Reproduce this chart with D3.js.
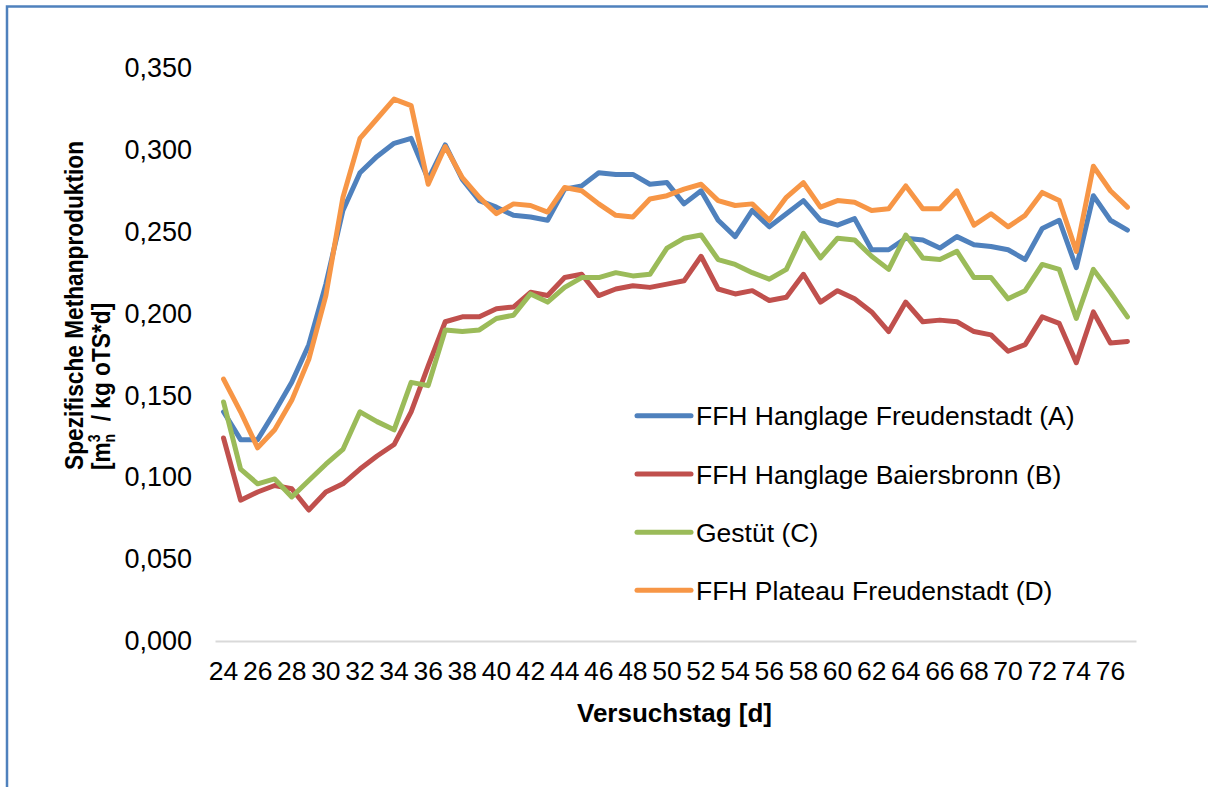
<!DOCTYPE html>
<html>
<head>
<meta charset="utf-8">
<script src="https://cdn.jsdelivr.net/npm/d3@7"></script>
<style>
  html, body { margin: 0; padding: 0; background: #fff; }
  svg { display: block; font-family: "Liberation Sans", Arial, sans-serif; }
</style>
</head>
<body>
<svg id="chart" width="1208" height="787"></svg>
<script>
// ---- data ----
const days = [24,25,26,27,28,29,30,31,32,33,34,35,36,37,38,39,40,41,42,43,44,45,46,47,48,49,50,
              51,52,53,54,55,56,57,58,59,60,61,62,63,64,65,66,67,68,69,70,71,72,73,74,75,76,77];
const tickDays = [24,26,28,30,32,34,36,38,40,42,44,46,48,50,52,54,56,58,60,62,64,66,68,70,72,74,76];
const yTicks = [0,0.05,0.10,0.15,0.20,0.25,0.30,0.35];

const seriesNames = ["FFH Hanglage Freudenstadt (A)", "FFH Hanglage Baiersbronn (B)", "Gestüt (C)", "FFH Plateau Freudenstadt (D)"];
const seriesColors = ["#4F81BD", "#C0504D", "#9BBB59", "#F79646"];

const valuesA = [0.140,0.123,0.123,0.140,0.158,0.181,0.218,0.263,0.286,0.296,0.304,0.307,0.282,0.303,0.282,0.269,0.265,0.260,0.259,0.257,
                 0.276,0.278,0.286,0.285,0.285,0.279,0.280,0.267,0.275,0.257,0.247,0.263,0.253,0.261,0.269,0.257,0.254,0.258,0.239,0.239,
                 0.246,0.245,0.240,0.247,0.242,0.241,0.239,0.233,0.252,0.257,0.228,0.272,0.257,0.251];
const valuesB = [0.124,0.086,0.091,0.095,0.093,0.080,0.091,0.096,0.105,0.113,0.120,0.140,0.168,0.195,0.198,0.198,0.203,0.204,0.213,0.211,
                 0.222,0.224,0.211,0.215,0.217,0.216,0.218,0.220,0.235,0.215,0.212,0.214,0.208,0.210,0.224,0.207,0.214,0.209,0.201,0.189,
                 0.207,0.195,0.196,0.195,0.189,0.187,0.177,0.181,0.198,0.194,0.170,0.201,0.182,0.183];
const valuesC = [0.146,0.105,0.096,0.099,0.088,0.098,0.108,0.117,0.140,0.134,0.129,0.158,0.156,0.190,0.189,0.190,0.197,0.199,0.212,0.207,
                 0.216,0.222,0.222,0.225,0.223,0.224,0.240,0.246,0.248,0.233,0.230,0.225,0.221,0.227,0.249,0.234,0.246,0.245,0.235,0.227,
                 0.248,0.234,0.233,0.238,0.222,0.222,0.209,0.214,0.230,0.227,0.197,0.227,0.213,0.198];
const valuesD = [0.160,0.140,0.118,0.129,0.147,0.172,0.211,0.271,0.307,0.319,0.331,0.327,0.279,0.302,0.283,0.271,0.261,0.267,0.266,0.262,
                 0.277,0.275,0.267,0.260,0.259,0.270,0.272,0.276,0.279,0.269,0.266,0.267,0.257,0.271,0.280,0.265,0.269,0.268,0.263,0.264,
                 0.278,0.264,0.264,0.275,0.254,0.261,0.253,0.260,0.274,0.269,0.238,0.290,0.275,0.265];

const allValues = [valuesA, valuesB, valuesC, valuesD];

// ---- drawing ----
const svg = d3.select("#chart");

// outer frame (only left and top edges visible)
svg.append("path")
  .attr("d", "M7,800 L7,6.5 L1220,6.5")
  .attr("fill", "none")
  .attr("stroke", "#4F81BD")
  .attr("stroke-width", 2.5);

const plotLeft = 215, plotRight = 1136, plotTop = 68, plotBottom = 641;

const x = d3.scaleBand().domain(days).range([plotLeft, plotRight]).paddingInner(0).paddingOuter(0);
const xc = d => x(d) + x.bandwidth() / 2;
const y = d3.scaleLinear().domain([0, 0.35]).range([plotBottom, plotTop]);

const de = d3.formatLocale({decimal: ",", thousands: ".", grouping: [3], currency: ["", "€"]});
const fmt = de.format(".3f");

// y axis (labels only)
const yAxis = svg.append("g")
  .attr("transform", `translate(${plotLeft},0)`)
  .call(d3.axisLeft(y).tickValues(yTicks).tickFormat(fmt).tickSize(0).tickPadding(23));
yAxis.select(".domain").remove();
yAxis.selectAll("text")
  .attr("font-size", 27)
  .attr("font-family", "Liberation Sans, Arial, sans-serif")
  .attr("fill", "#000");

// x axis
const xAxis = svg.append("g")
  .attr("transform", `translate(0,${plotBottom})`)
  .call(d3.axisBottom(x).tickValues(tickDays).tickSize(0).tickPadding(20));
xAxis.select(".domain").attr("stroke", "#D9D9D9").attr("stroke-width", 2);
xAxis.selectAll("text")
  .attr("font-size", 26.5)
  .attr("font-family", "Liberation Sans, Arial, sans-serif")
  .attr("fill", "#000");

// lines
const line = d3.line()
  .x((v, i) => xc(days[i]))
  .y(v => y(v));

svg.append("g").selectAll("path")
  .data(allValues)
  .join("path")
  .attr("d", d => line(d))
  .attr("fill", "none")
  .attr("stroke", (d, i) => seriesColors[i])
  .attr("stroke-width", 5)
  .attr("stroke-linejoin", "round")
  .attr("stroke-linecap", "round");

// axis titles
svg.append("text")
  .attr("x", 674.5)
  .attr("y", 722)
  .attr("text-anchor", "middle")
  .attr("font-size", 26)
  .attr("font-weight", "bold")
  .text("Versuchstag [d]");

const k = 1.15;
const yTitle = svg.append("text")
  .attr("transform", `rotate(-90) scale(1,${k})`)
  .attr("font-size", 22.7)
  .attr("font-weight", "bold");
yTitle.append("tspan")
  .attr("x", -470).attr("y", 83.5 / k)
  .text("Spezifische Methanproduktion");
const l2 = yTitle.append("tspan").attr("x", -470).attr("y", 110 / k);
l2.append("tspan").text("[m");
l2.append("tspan").attr("font-size", 14).attr("dy", -9).text("3");
l2.append("tspan").attr("font-size", 14).attr("dx", -8).attr("dy", 13).text("n");
l2.append("tspan").attr("dy", -4).text("  / kg oTS*d]").attr("xml:space", "preserve").style("white-space", "pre");

// legend
const legend = svg.append("g");
const rowY = [415.7, 474, 532.2, 590.3];
seriesNames.forEach((name, i) => {
  const g = legend.append("g").attr("transform", `translate(0,${rowY[i]})`);
  g.append("line")
    .attr("x1", 637).attr("x2", 691)
    .attr("y1", 0).attr("y2", 0)
    .attr("stroke", seriesColors[i])
    .attr("stroke-width", 5)
    .attr("stroke-linecap", "round");
  g.append("text")
    .attr("x", 696).attr("y", 9.5)
    .attr("font-size", 26.5)
    .attr("fill", "#000")
    .text(name);
});
</script>
</body>
</html>
